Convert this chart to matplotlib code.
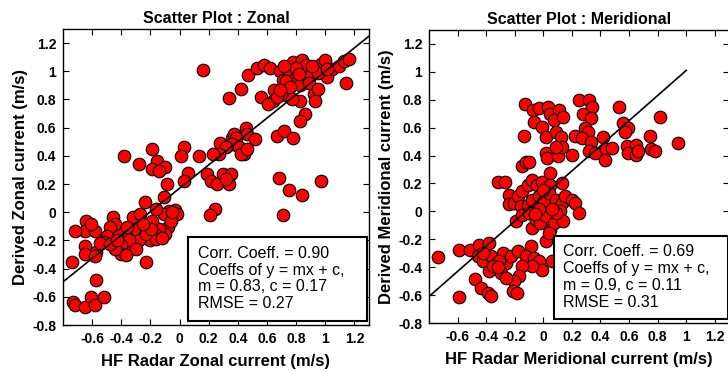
import matplotlib
matplotlib.use("Agg")
import matplotlib.pyplot as plt
from matplotlib.patches import Rectangle
from matplotlib.ticker import FuncFormatter

plt.rcParams["font.family"] = ["Liberation Sans", "DejaVu Sans"]
plt.rcParams["axes.unicode_minus"] = False

# --- zonal: HF radar vs derived (m/s) ---
zonal_x = [
    0.16, 0.425, 0.34, 0.47, 0.53, 0.58, 0.62, 0.56, 0.65, 0.64, 0.61, 0.69,
    0.71, 0.73, 0.75, 0.78, 0.80, 0.825, 0.84, 0.87, 0.83, 0.86, 0.83, 0.90,
    0.92, 0.93, 0.97, 1.0, 1.01, 1.045, 1.095, 1.13, 1.16, 1.14, 0.73, 0.76,
    0.80, 0.72, 0.89, 0.95, 0.91, 0.82, 0.67, 0.77, 1.01, 0.95, 0.69,
    0.67, 0.715, 0.78, 0.68, 0.75, 0.84, 0.71, 0.97,
    0.455, 0.465, 0.36, 0.375, 0.39, 0.36, 0.41, 0.44, 0.42, 0.465, 0.52,
    0.28, 0.32, 0.27, 0.135, 0.23, 0.03, 0.01, 0.06, 0.03, 0.19, 0.215,
    0.26, 0.30, 0.35, 0.34, 0.32, 0.245, 0.21,
    -0.38, -0.28, -0.19, -0.155, -0.19, -0.10, -0.14, -0.085, -0.11, -0.235,
    -0.03, -0.07, -0.02, -0.11, -0.16, -0.08, -0.06, -0.10, -0.14, -0.19,
    -0.17, -0.20, -0.16, -0.23, -0.28, -0.32, -0.27, -0.31, -0.33, -0.375,
    -0.35, -0.40, -0.43, -0.455, -0.44, -0.48, -0.50, -0.40, -0.44, -0.52,
    -0.57, -0.64, -0.65, -0.58, -0.61, -0.72, -0.65, -0.65, -0.58, -0.74,
    -0.23, -0.57, -0.73, -0.72, -0.65, -0.61, -0.58, -0.52, -0.23, -0.30,
    -0.36, -0.195, -0.545, -0.48, -0.43, -0.05, -0.12, -0.25, -0.37,
]
zonal_y = [
    1.01, 0.875, 0.81, 0.975, 1.02, 1.045, 1.02, 0.815, 0.87, 0.79, 0.77, 1.0,
    0.935, 0.83, 1.0, 1.065, 0.95, 0.90, 1.08, 1.045, 0.79, 0.70, 0.645, 0.975,
    0.84, 0.79, 1.055, 1.08, 0.96, 1.015, 1.04, 1.07, 1.09, 0.92, 0.93, 0.89,
    1.02, 1.04, 0.92, 0.99, 1.04, 0.98, 0.815, 0.80, 1.015, 0.875, 0.87,
    0.54, 0.58, 0.53, 0.24, 0.16, 0.12, -0.02, 0.22,
    0.60, 0.555, 0.53, 0.555, 0.53, 0.485, 0.46, 0.41, 0.41, 0.45, 0.52,
    0.49, 0.46, 0.41, 0.40, 0.41, 0.465, 0.40, 0.28, 0.22, 0.27, 0.225,
    0.20, 0.27, 0.27, 0.20, 0.235, 0.025, -0.02,
    0.40, 0.34, 0.45, 0.365, 0.31, 0.32, 0.295, 0.20, 0.105, 0.07,
    0.015, 0.01, -0.01, -0.01, 0.02, -0.105, -0.06, -0.155, -0.12, -0.06,
    -0.155, -0.20, -0.19, -0.13, -0.20, -0.035, -0.01, -0.12, -0.25, -0.155,
    -0.20, -0.235, -0.14, -0.035, -0.08, -0.105, -0.165, -0.295, -0.26, -0.21,
    -0.28, -0.06, -0.13, -0.13, -0.08, -0.13, -0.24, -0.295, -0.31, -0.355,
    -0.355, -0.48, -0.64, -0.655, -0.675, -0.60, -0.66, -0.60, -0.155, -0.26,
    -0.105, -0.12, -0.22, -0.225, -0.20, 0.0, -0.18, -0.08, -0.30,
]

# --- meridional: HF radar vs derived (m/s) ---
merid_x = [
    -0.13, -0.07, -0.03, 0.035, 0.046, 0.11, 0.074, 0.137, -0.065, -0.012,
    0.016, 0.09, 0.127, -0.134, 0.016, 0.028, 0.10, 0.132, 0.086, 0.20,
    0.252, 0.317, 0.34, 0.275, 0.336, 0.29, 0.31, 0.225, 0.27, 0.333,
    0.317, 0.363, 0.42, 0.437, 0.48, 0.435, 0.53, 0.56, 0.59, 0.57,
    0.583, 0.59, 0.646, 0.65, 0.66, 0.745, 0.752, 0.785, 0.815, 0.94,
    -0.15, -0.12, -0.10,
    -0.32, -0.266, -0.24, -0.243, -0.204, -0.174, -0.146, -0.11, -0.076, -0.042,
    -0.012, 0.044, 0.05, 0.132, -0.157, -0.11, -0.076, -0.03, 0.005, 0.04,
    0.086, 0.13, 0.155, 0.20, 0.225, 0.25, -0.19, -0.146, -0.10, -0.076,
    -0.05, -0.02, 0.016, 0.05, 0.074, 0.12, 0.14, 0.086, 0.016, 0.04,
    -0.088, -0.03, 0.0, 0.06, -0.06,
    -0.74, -0.59, -0.51, -0.447, -0.377, -0.458, -0.424, -0.366, -0.285, -0.331,
    -0.262, -0.227, -0.18, -0.123, -0.065, -0.03, -0.007, -0.076, -0.146, -0.169,
    -0.204, -0.215, -0.187, -0.296, -0.262, -0.377, -0.48, -0.435, -0.39, -0.366,
    -0.59, 0.063, -0.308, -0.354, -0.42, -0.32,
]
merid_y = [
    0.767, 0.726, 0.74, 0.745, 0.70, 0.726, 0.655, 0.68, 0.64, 0.607,
    0.536, 0.57, 0.53, 0.54, 0.417, 0.38, 0.40, 0.464, 0.464, 0.405,
    0.80, 0.80, 0.745, 0.70, 0.667, 0.595, 0.57, 0.54, 0.524, 0.50,
    0.43, 0.42, 0.536, 0.445, 0.452, 0.37, 0.75, 0.63, 0.595, 0.57,
    0.47, 0.417, 0.476, 0.405, 0.43, 0.54, 0.445, 0.436, 0.674, 0.493,
    0.326, 0.357, 0.357,
    0.214, 0.214, 0.12, 0.055, 0.06, 0.11, 0.143, 0.19, 0.226, 0.19,
    0.214, 0.274, 0.19, 0.202, 0.036, 0.048, 0.083, 0.107, 0.071, 0.13,
    0.083, 0.06, 0.107, 0.083, 0.06, -0.012, -0.07, -0.024, -0.012, -0.12,
    -0.06, -0.083, -0.036, -0.13, -0.083, 0.0, -0.07, -0.012, -0.214, -0.155,
    -0.25, 0.02, 0.15, 0.02, -0.02,
    -0.326, -0.28, -0.28, -0.238, -0.226, -0.32, -0.357, -0.32, -0.298, -0.38,
    -0.37, -0.32, -0.286, -0.32, -0.333, -0.357, -0.417, -0.393, -0.393, -0.464,
    -0.50, -0.57, -0.583, -0.44, -0.476, -0.43, -0.483, -0.548, -0.583, -0.607,
    -0.614, -0.357, -0.357, -0.393, -0.30, -0.40,
]

# fit parameters and statistics
zonal_stats = {"r": "0.90", "m": 0.83, "c": 0.17, "rmse": "0.27", "xfit": (-0.8, 1.3)}
merid_stats = {"r": "0.69", "m": 0.9, "c": 0.11, "rmse": "0.31", "xfit": (-0.8, 1.0)}

fig = plt.figure(figsize=(7.28, 3.72), dpi=100)
ax1 = fig.add_axes([0.0865, 0.1263, 0.4203, 0.7957])
ax2 = fig.add_axes([0.5893, 0.1317, 0.4121, 0.7876])

fmt = FuncFormatter(lambda v, p: "%g" % round(v, 2))


def draw_panel(ax, x, y, st, title, xlabel, ylabel, box_left, text_left):
    ax.scatter(x, y, s=82, c="#ff0000", edgecolors="black", linewidths=0.8, zorder=3)
    x0, x1 = st["xfit"]
    ax.plot([x0, x1], [st["m"] * x0 + st["c"], st["m"] * x1 + st["c"]],
            color="black", lw=1.2, zorder=4)
    ax.set_xlim(-0.8, 1.3)
    ax.set_ylim(-0.8, 1.3)
    ax.set_xticks([-0.6, -0.4, -0.2, 0, 0.2, 0.4, 0.6, 0.8, 1.0, 1.2])
    ax.set_yticks([-0.8, -0.6, -0.4, -0.2, 0, 0.2, 0.4, 0.6, 0.8, 1.0, 1.2])
    ax.xaxis.set_major_formatter(fmt)
    ax.yaxis.set_major_formatter(fmt)
    ax.tick_params(direction="in", top=True, right=True, length=4, width=0.8,
                   labelsize=10, pad=5)
    for lab in ax.get_xticklabels() + ax.get_yticklabels():
        lab.set_fontweight("bold")
    for sp in ax.spines.values():
        sp.set_linewidth(1.0)
    ax.set_title(title, fontsize=11.5, fontweight="bold", pad=4)
    ax.set_xlabel(xlabel, fontsize=12, fontweight="bold", labelpad=6)
    ax.set_ylabel(ylabel, fontsize=12, fontweight="bold", labelpad=3)

    # statistics box in the lower right corner
    ax.add_patch(Rectangle((box_left, 0.012), 0.995 - box_left, 0.285,
                           transform=ax.transAxes, facecolor="white",
                           edgecolor="black", lw=1.5, zorder=5))
    txt = ("Corr. Coeff. = %s\nCoeffs of y = mx + c,\nm = %g, c = %g\nRMSE = %s"
           % (st["r"], st["m"], st["c"], st["rmse"]))
    ax.text(text_left, 0.157, txt, transform=ax.transAxes, fontsize=11.5,
            va="center", ha="left", linespacing=1.15, zorder=6)


draw_panel(ax1, zonal_x, zonal_y, zonal_stats, "Scatter Plot : Zonal",
           "HF Radar Zonal current (m/s)", "Derived Zonal current (m/s)",
           0.41, 0.44)
draw_panel(ax2, merid_x, merid_y, merid_stats, "Scatter Plot : Meridional",
           "HF Radar Meridional current (m/s)", "Derived Meridional current (m/s)",
           0.417, 0.447)

fig.savefig("out.png", dpi=100)
